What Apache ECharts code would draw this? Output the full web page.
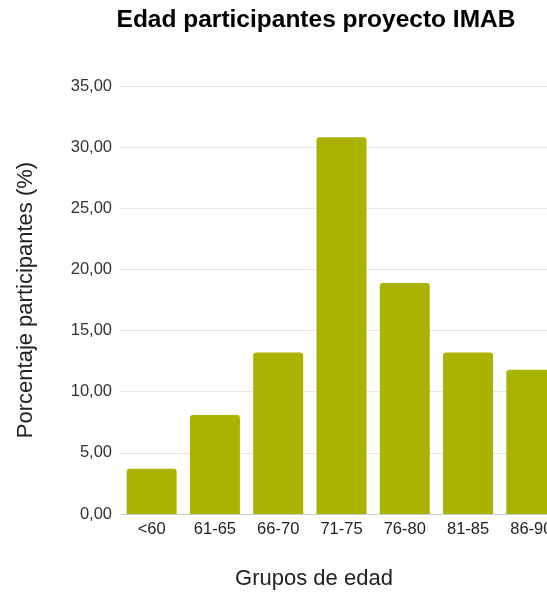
<!DOCTYPE html>
<html>
<head>
<meta charset="utf-8">
<title>Edad participantes proyecto IMAB</title>
<script src="https://cdn.jsdelivr.net/npm/echarts@6/dist/echarts.min.js"></script>
<style>
  html, body { margin: 0; padding: 0; background: #ffffff; overflow: hidden; }
  #chart { width: 547px; height: 594px; }
</style>
</head>
<body>
<div id="chart"></div>
<script>
// Age groups of the project participants
const categories = ['<60', '61-65', '66-70', '71-75', '76-80', '81-85', '86-90'];
// Share of participants in each group (%)
const percentages = [3.7, 8.1, 13.2, 30.8, 18.9, 13.2, 11.8];
// Y axis range and step
const yMin = 0;
const yMax = 35;
const yStep = 5;

const chart = echarts.init(document.getElementById('chart'), null, { renderer: 'canvas' });

const fontFamily = 'Liberation Sans, Arial, sans-serif';

chart.setOption({
  animation: false,
  backgroundColor: '#ffffff',
  title: {
    text: 'Edad participantes proyecto IMAB',
    left: 311,
    textAlign: 'center',
    top: 3,
    textStyle: { fontFamily, fontSize: 24.5, fontWeight: 'bold', color: '#000000' }
  },
  // the plot runs on past the right edge of the page
  grid: { left: 120, top: 86, width: 443, height: 428, outerBoundsMode: 'none', containLabel: false },
  xAxis: {
    type: 'category',
    data: categories,
    axisTick: { show: false },
    axisLine: { lineStyle: { color: '#cccccc', width: 1 } },
    axisLabel: { fontFamily, fontSize: 16.5, color: '#222222', margin: 7, hideOverlap: false }
  },
  yAxis: {
    type: 'value',
    min: yMin,
    max: yMax,
    interval: yStep,
    name: 'Porcentaje participantes (%)',
    nameLocation: 'middle',
    nameGap: 83,
    nameTextStyle: { fontFamily, fontSize: 22, color: '#222222' },
    axisLine: { show: false },
    axisTick: { show: false },
    splitLine: { lineStyle: { color: '#e6e6e6', width: 1 } },
    axisLabel: {
      fontFamily, fontSize: 16.5, color: '#333333', margin: 8,
      formatter: v => v.toFixed(2).replace('.', ',')
    }
  },
  series: [{
    type: 'bar',
    data: percentages,
    barWidth: 50,
    itemStyle: { color: '#aab400', borderRadius: [3, 3, 0, 0] }
  }],
  graphic: [{
    type: 'text',
    x: 314,
    y: 579,
    style: {
      text: 'Grupos de edad',
      fontFamily, fontSize: 22, fill: '#222222',
      textAlign: 'center',
      textVerticalAlign: 'middle'
    }
  }]
});
</script>
</body>
</html>
